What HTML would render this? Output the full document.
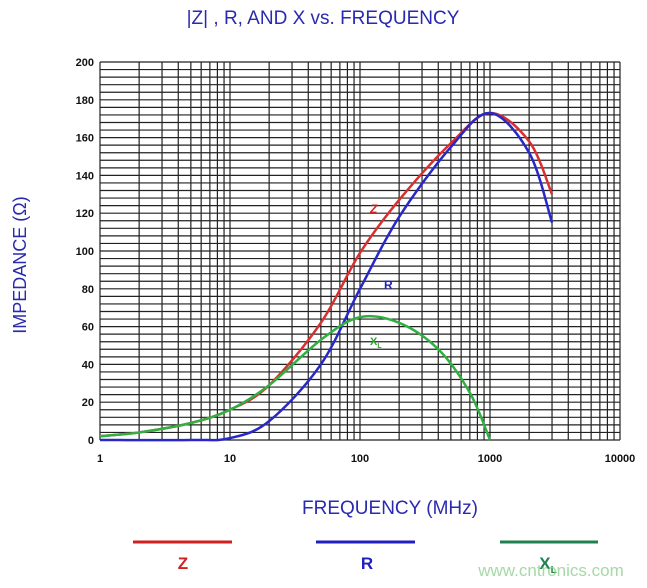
<!DOCTYPE html>
<html><head><meta charset="utf-8"><style>
body{margin:0;background:#fff;width:647px;height:583px;overflow:hidden;font-family:"Liberation Sans",sans-serif}
</style></head><body>
<svg id="s" width="647" height="583" xmlns="http://www.w3.org/2000/svg">
<text x="323" y="24" text-anchor="middle" font-size="19" fill="#2a2ab0" font-family="Liberation Sans">|Z| , R, AND X vs. FREQUENCY</text>
<g id="grid" stroke="#222" stroke-width="1.2"></g>
<g id="lab" font-size="11" font-weight="bold" fill="#111"></g>
<g id="curves" fill="none" stroke-width="2.5"></g>
<text x="370" y="213" font-size="12" font-weight="bold" fill="#d02020" font-style="italic">Z</text>
<text x="384" y="289" font-size="12" font-weight="bold" fill="#2020c0">R</text>
<text x="370" y="345" font-size="11" font-weight="bold" fill="#30a030">X<tspan font-size="7" dy="3">L</tspan></text>
<text transform="translate(26,265) rotate(-90)" text-anchor="middle" font-size="18" fill="#2a2ab0">IMPEDANCE (Ω)</text>
<text x="390" y="514" text-anchor="middle" font-size="19" fill="#2a2ab0">FREQUENCY (MHz)</text>
<line x1="133" y1="542" x2="232" y2="542" stroke="#d02020" stroke-width="3"/>
<line x1="316" y1="542" x2="415" y2="542" stroke="#2020c0" stroke-width="3"/>
<line x1="500" y1="542" x2="598" y2="542" stroke="#208050" stroke-width="3"/>
<text x="183" y="569" text-anchor="middle" font-size="17" font-weight="bold" fill="#d02020">Z</text>
<text x="367" y="569" text-anchor="middle" font-size="17" font-weight="bold" fill="#2020c0">R</text>
<text x="548" y="569" text-anchor="middle" font-size="17" font-weight="bold" fill="#208050">X<tspan font-size="10" dy="4">L</tspan></text>
<text x="551" y="576" text-anchor="middle" font-size="17" fill="#8fd08f" opacity="0.8">www.cntronics.com</text>
</svg>
<script>
var NS="http://www.w3.org/2000/svg";
function X(f){return 100+130*Math.log10(f);}
function Y(v){return 440-1.89*v;}
var g=document.getElementById('grid'),l=document.getElementById('lab'),c=document.getElementById('curves');
function el(p,t,a){var e=document.createElementNS(NS,t);for(var k in a)e.setAttribute(k,a[k]);p.appendChild(e);return e;}
for(var v=0;v<=200;v+=4)el(g,'line',{x1:100,x2:620,y1:Y(v),y2:Y(v)});
for(var d=1;d<10000;d*=10)for(var m=1;m<10;m++)el(g,'line',{x1:X(d*m),x2:X(d*m),y1:Y(200),y2:Y(0)});
el(g,'line',{x1:620,x2:620,y1:Y(200),y2:Y(0)});
for(var v=0;v<=200;v+=20){var t=el(l,'text',{x:94,y:Y(v)+4,'text-anchor':'end'});t.textContent=v;}
[1,10,100,1000,10000].forEach(function(f){var t=el(l,'text',{x:X(f),y:462,'text-anchor':'middle'});t.textContent=f;});
function path(pts,col){var P=pts.map(function(p){return[X(p[0]),Y(p[1])];});var d='M'+P[0];
for(var i=0;i<P.length-1;i++){var p0=P[i-1]||P[i],p1=P[i],p2=P[i+1],p3=P[i+2]||P[i+1];
d+=' C'+(p1[0]+(p2[0]-p0[0])/6)+','+(p1[1]+(p2[1]-p0[1])/6)+' '+(p2[0]-(p3[0]-p1[0])/6)+','+(p2[1]-(p3[1]-p1[1])/6)+' '+p2;}
el(c,'path',{d:d,stroke:col});}
path([[1,2],[2,4],[5,9],[10,16],[20,29],[50,62],[100,99],[200,127],[500,157],[1000,173],[2000,158],[3000,130]],'#d83030');
path([[1,0],[5,0],[10,1],[20,10],[50,40],[100,80],[200,118],[500,155],[1000,173],[2000,152],[3000,115]],'#2828c8');
path([[1,2],[2,4],[5,9],[10,16],[20,29],[50,53],[100,65],[200,62],[400,48],[700,25],[1000,0]],'#30b040');
</script>
</body></html>
